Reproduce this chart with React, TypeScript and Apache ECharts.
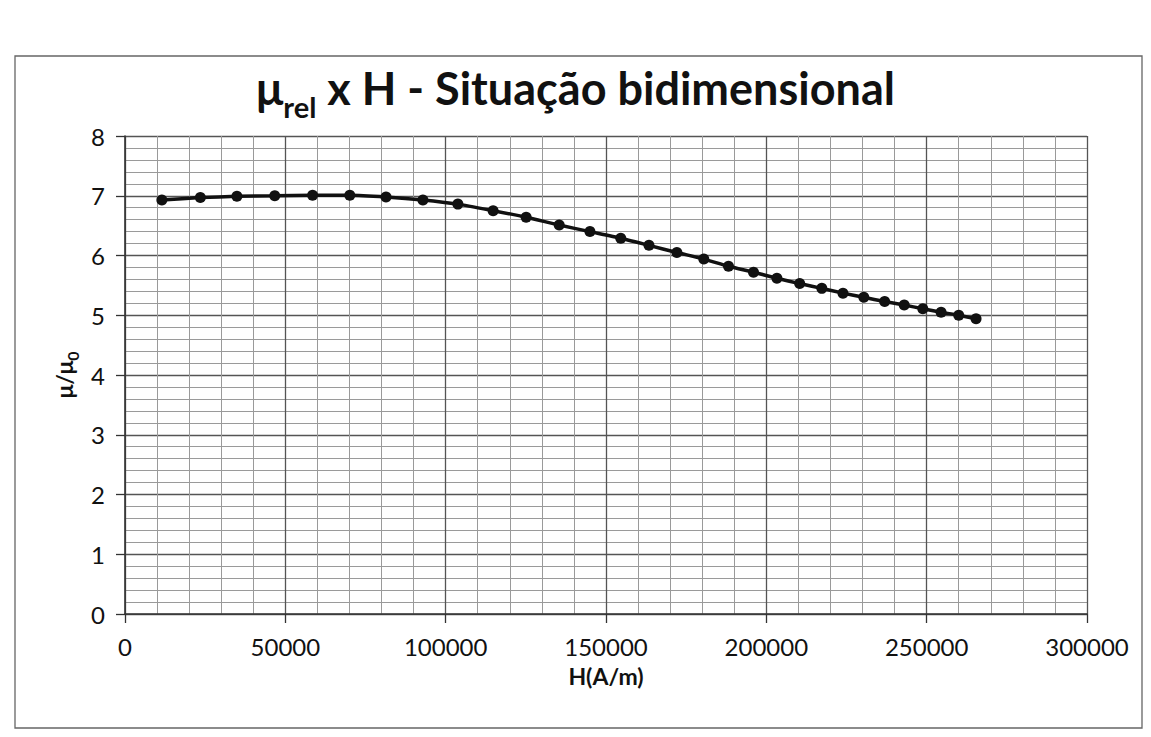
import React, { useEffect, useRef } from "react";
import * as echarts from "echarts";

const hValues = [
  11500, 23500, 34900, 46700, 58500, 70100, 81400, 92900, 103800, 114800,
  125100, 135400, 145000, 154600, 163400, 172100, 180500, 188200, 196000, 203300,
  210400, 217300, 223900, 230400, 236900, 243000, 248800, 254500, 260000, 265400,
];
const muValues = [
  6.93, 6.97, 6.99, 7.0, 7.01, 7.01, 6.98, 6.93, 6.86, 6.75,
  6.64, 6.51, 6.4, 6.29, 6.17, 6.05, 5.94, 5.82, 5.72, 5.62,
  5.53, 5.45, 5.37, 5.3, 5.23, 5.17, 5.11, 5.05, 5.0, 4.94,
];
const xMin = 0;
const xMax = 300000;
const xStep = 50000;
const yMin = 0;
const yMax = 8;
const yStep = 1;
const titleMain = " x H - Situação bidimensional";
const titleSymbol = "μ";
const titleSub = "rel";
const xName = "H(A/m)";
const yNameMain = "μ/μ";
const yNameSub = "0";

const FONT = "Lato, 'Open Sans', sans-serif";

export default function App() {
  const ref = useRef<HTMLDivElement>(null);
  useEffect(() => {
    document.body.style.margin = "0";
    if (!ref.current) return;
    const chart = echarts.init(ref.current, undefined, { renderer: "svg" });
    const data = hValues.map((h, i) => [h, muValues[i]]);
    chart.setOption({
      animation: false,
      backgroundColor: "#ffffff",
      title: {
        text: `{mu|${titleSymbol}}{sub|${titleSub}}{t|${titleMain}}`,
        left: "center",
        top: 50,
        textStyle: {
          rich: {
            mu: { fontFamily: FONT, fontSize: 45, fontWeight: "bold", color: "#111", lineHeight: 66 },
            sub: { fontFamily: FONT, fontSize: 29, fontWeight: "bold", color: "#111", lineHeight: 28, verticalAlign: "bottom" },
            t: { fontFamily: FONT, fontSize: 45, fontWeight: "bold", color: "#111", lineHeight: 66 },
          },
        },
      },
      graphic: [
        {
          type: "rect",
          shape: { x: 15, y: 56, width: 1127, height: 672 },
          style: { fill: "none", stroke: "#666", lineWidth: 1.3 },
          silent: true,
        },
      ],
      grid: { left: 125, right: 64, top: 136, bottom: 123 },
      xAxis: {
        type: "value",
        min: xMin,
        max: xMax,
        interval: xStep,
        name: xName,
        nameLocation: "middle",
        nameGap: 50,
        nameTextStyle: { fontFamily: FONT, fontSize: 23, fontWeight: "bold", color: "#111" },
        axisLine: { show: true, lineStyle: { color: "#333", width: 1.6 } },
        axisTick: { show: true, length: 9, lineStyle: { color: "#333", width: 1.3 } },
        axisLabel: { margin: 20, fontFamily: FONT, fontSize: 24, color: "#111", formatter: (v: number) => String(v) },
        splitLine: { show: true, lineStyle: { color: "#555", width: 1.3 } },
        minorTick: { show: false, splitNumber: 5 },
        minorSplitLine: { show: true, lineStyle: { color: "#9a9a9a", width: 1 } },
      },
      yAxis: {
        type: "value",
        min: yMin,
        max: yMax,
        interval: yStep,
        name: `{a|${yNameMain}}{b|${yNameSub}}`,
        nameLocation: "middle",
        nameRotate: 90,
        nameGap: 44,
        nameTextStyle: {
          rich: {
            a: { fontFamily: FONT, fontSize: 23, fontWeight: "bold", color: "#111", lineHeight: 32 },
            b: { fontFamily: FONT, fontSize: 16, fontWeight: "bold", color: "#111", lineHeight: 16, verticalAlign: "bottom" },
          },
        },
        axisLine: { show: true, lineStyle: { color: "#333", width: 1.6 } },
        axisTick: { show: true, length: 9, lineStyle: { color: "#333", width: 1.3 } },
        axisLabel: { margin: 20, fontFamily: FONT, fontSize: 24, color: "#111" },
        splitLine: { show: true, lineStyle: { color: "#555", width: 1.3 } },
        minorTick: { show: false, splitNumber: 5 },
        minorSplitLine: { show: true, lineStyle: { color: "#9a9a9a", width: 1 } },
      },
      series: [
        {
          type: "line",
          data,
          smooth: 0.2,
          symbol: "circle",
          symbolSize: 11,
          lineStyle: { color: "#111", width: 3.5 },
          itemStyle: { color: "#111" },
        },
      ],
    });
    return () => chart.dispose();
  }, []);
  return <div ref={ref} style={{ width: 1151, height: 737 }} />;
}
